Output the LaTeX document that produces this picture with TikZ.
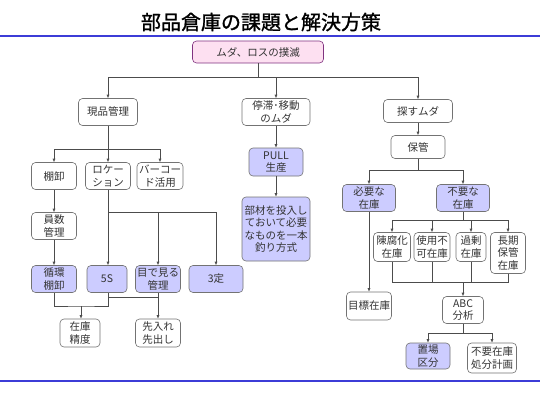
\documentclass[tikz,border=0pt]{standalone}
\usepackage{fontspec}
\newfontfamily\jfont{Noto Sans CJK JP}
\newfontfamily\jtitle[FakeBold=1.3]{Noto Sans CJK JP}
\usetikzlibrary{arrows.meta}
\definecolor{rulecol}{RGB}{60,60,215}

\begin{document}
\begin{tikzpicture}[x=1pt,y=-1pt,
    every node/.style={font=\jfont\fontsize{10.5}{12.5}\selectfont,
      align=center,inner sep=1pt,rounded corners=4pt,draw=gray!90!black,
      line width=0.6pt,text=black!80},
    plainbox/.style={fill=white},
    bluebox/.style={fill=blue!20!white},
    topbox/.style={fill=magenta!12!white,draw=violet!60!gray},
    link/.style={draw=black!70,line width=0.6pt},
    arr/.style={link,-{Latex[length=3.5pt,width=3pt]}}]
  \useasboundingbox (0,0) rectangle (540,405);
  % title and rules
  \node[draw=none,font=\jtitle\fontsize{20}{24}\selectfont,text=black] (title) at (261,22) {部品倉庫の課題と解決方策};
  \draw[rulecol,line width=2.2pt] (0,36) -- (540,36);
  \draw[rulecol,line width=2.2pt] (0,381) -- (540,381);

  \node[topbox,minimum width=131pt,minimum height=22pt] (top) at (258,52) {ムダ、ロスの撲滅};

  % first level
  \node[plainbox,minimum width=59pt,minimum height=27pt] (genpin) at (108,112) {現品管理};
  \node[plainbox,minimum width=68pt,minimum height=27pt] (teitai) at (276,112) {停滞･移動\\のムダ};
  \node[plainbox,minimum width=69pt,minimum height=23pt] (sagasu) at (418,111) {探すムダ};

  % left branch
  \node[plainbox,minimum width=45pt,minimum height=27pt] (tanaoroshi) at (54,176) {棚卸};
  \node[plainbox,minimum width=45pt,minimum height=27pt] (location) at (108,176) {ロケー\\ション};
  \node[plainbox,minimum width=46pt,minimum height=27pt] (barcode) at (160,176) {バーコー\\ド活用};
  \node[plainbox,minimum width=45pt,minimum height=27pt] (insu) at (54,226) {員数\\管理};
  \node[bluebox,minimum width=45pt,minimum height=27pt] (junkan) at (54,279) {循環\\棚卸};
  \node[bluebox,minimum width=40pt,minimum height=27pt] (fiveS) at (107,279) {5S};
  \node[bluebox,minimum width=45pt,minimum height=27pt] (mieru) at (158,279) {目で見る\\管理};
  \node[bluebox,minimum width=54pt,minimum height=27pt] (santei) at (216,279) {3定};
  \node[plainbox,minimum width=40pt,minimum height=28pt] (seido) at (80,333) {在庫\\精度};
  \node[plainbox,minimum width=45pt,minimum height=28pt] (sakiire) at (158,333) {先入れ\\先出し};

  % middle branch
  \node[bluebox,minimum width=54pt,minimum height=28pt] (pull) at (276,162) {PULL\\生産};
  \node[bluebox,minimum width=68pt,minimum height=64pt] (buzai) at (276,229) {部材を投入し\\ておいて必要\\なものを一本\\釣り方式};

  % right branch
  \node[plainbox,minimum width=54pt,minimum height=23pt] (hokan) at (418,147) {保管};
  \node[bluebox,minimum width=53pt,minimum height=27pt] (hitsuyo) at (369,198) {必要な\\在庫};
  \node[bluebox,minimum width=53pt,minimum height=27pt] (fuyo) at (463,198) {不要な\\在庫};
  \node[plainbox,minimum width=37pt,minimum height=29pt] (chinpu) at (392,247) {陳腐化\\在庫};
  \node[plainbox,minimum width=36pt,minimum height=29pt] (shiyo) at (432,247) {使用不\\可在庫};
  \node[plainbox,minimum width=30pt,minimum height=29pt] (kajo) at (471,247) {過剰\\在庫};
  \node[plainbox,minimum width=35pt,minimum height=41pt] (choki) at (508,253) {長期\\保管\\在庫};
  \node[plainbox,minimum width=45pt,minimum height=28pt] (mokuhyo) at (369,306) {目標在庫};
  \node[plainbox,minimum width=41pt,minimum height=27pt] (abc) at (463,310) {ABC\\分析};
  \node[bluebox,minimum width=44pt,minimum height=26pt] (okiba) at (428,356) {置場\\区分};
  \node[plainbox,minimum width=49pt,minimum height=30pt] (shobun) at (492,358) {不要在庫\\処分計画};

  % junctions
  \coordinate (j1) at (258,77);
  \coordinate (j2) at (108,149);
  \coordinate (j3) at (108,212);
  \coordinate (j4) at (81,306);
  \coordinate (j5) at (108,297);
  \coordinate (j6) at (418,170);
  \coordinate (j7) at (463,220);
  \coordinate (j8) at (463,282);
  \coordinate (j9) at (463,333);

  \draw[link] (top) -- (j1);
  \draw[arr] (j1) -| (genpin);
  \draw[arr] (j1) -| (teitai);
  \draw[arr] (j1) -| (sagasu);

  \draw[link] (genpin) -- (j2);
  \draw[arr] (j2) -| (tanaoroshi);
  \draw[arr] (j2) -- (location);
  \draw[arr] (j2) -| (barcode);
  \draw[arr] (tanaoroshi) -- (insu);
  \draw[arr] (insu) -- (junkan);
  \draw[arr] (location) -- (fiveS.north -| location);
  \draw[arr] (j3) -| (mieru);
  \draw[arr] (j3) -| (santei);
  \draw[link] (junkan) |- (j4) -| (fiveS.south -| location);
  \draw[arr] (j4) -- (seido.north -| j4);
  \draw[link] (j5) -| (mieru.south);
  \draw[arr] (mieru) -- (sakiire);

  \draw[arr] (teitai) -- (pull);
  \draw[arr] (pull) -- (buzai);

  \draw[arr] (sagasu) -- (hokan);
  \draw[link] (hokan) -- (j6);
  \draw[arr] (j6) -| (hitsuyo);
  \draw[arr] (j6) -| (fuyo);
  \draw[link] (fuyo) -- (j7);
  \draw[arr] (j7) -| (chinpu);
  \draw[arr] (j7) -| (shiyo);
  \draw[arr] (j7) -| (kajo);
  \draw[arr] (j7) -| (choki);
  \draw[link] (chinpu) |- (j8);
  \draw[link] (shiyo) |- (j8);
  \draw[link] (kajo) |- (j8);
  \draw[link] (choki) |- (j8);
  \draw[arr] (j8) -- (abc);
  \draw[arr] (hitsuyo) -- (mokuhyo);
  \draw[link] (abc) -- (j9);
  \draw[arr] (j9) -| (okiba);
  \draw[arr] (j9) -| (shobun);
\end{tikzpicture}
\end{document}
